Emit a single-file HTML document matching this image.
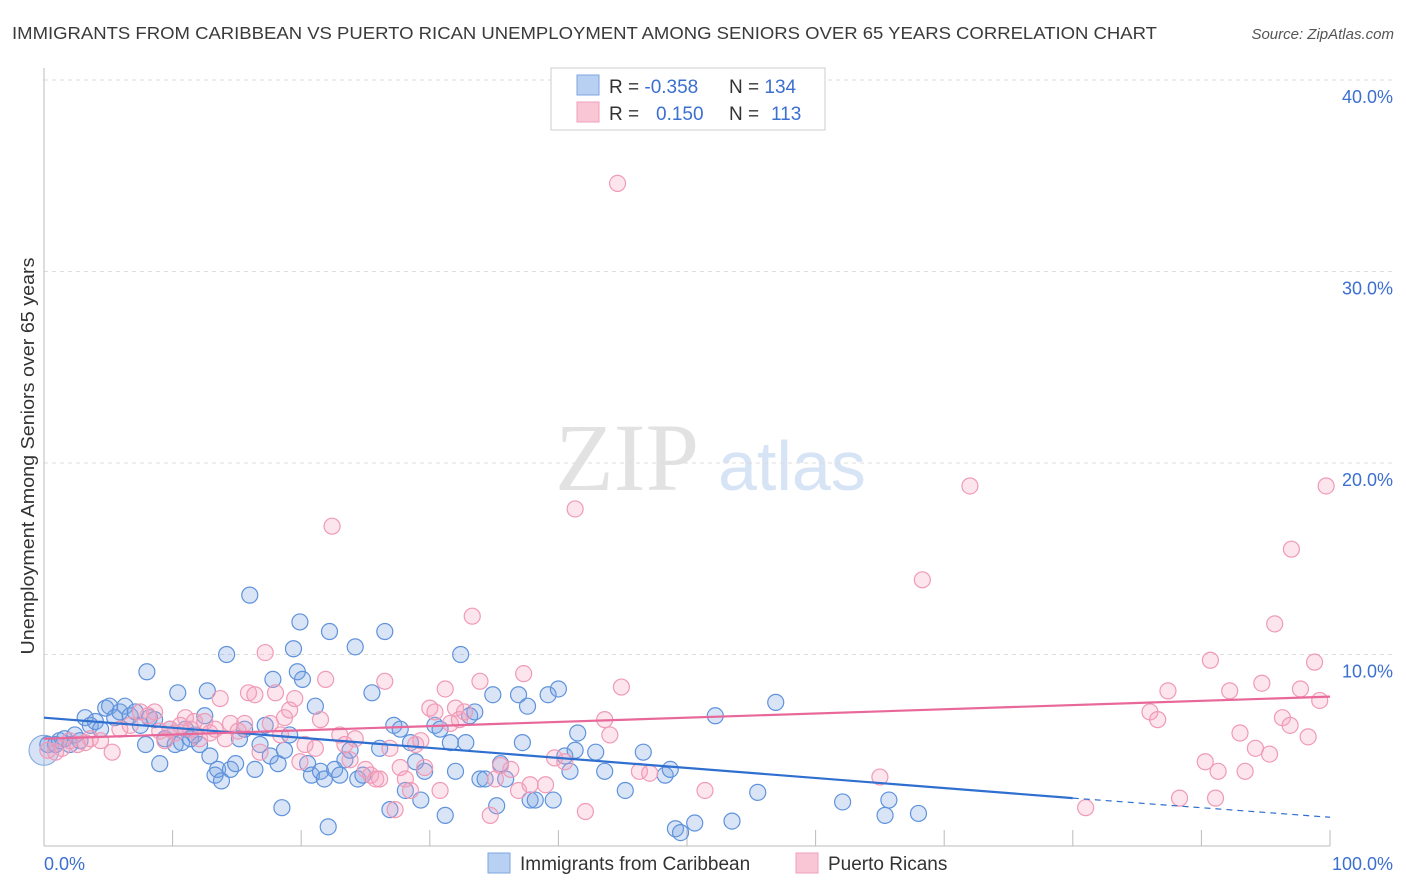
<!DOCTYPE html>
<html><head><meta charset="utf-8"><style>
body{margin:0;background:#fff;font-family:"Liberation Sans",sans-serif;}
svg{display:block}
</style></head><body>
<svg id="chart" width="1406" height="892">
<text x="12" y="39" font-size="17.5" fill="#3a3a3a" textLength="1145" lengthAdjust="spacingAndGlyphs">IMMIGRANTS FROM CARIBBEAN VS PUERTO RICAN UNEMPLOYMENT AMONG SENIORS OVER 65 YEARS CORRELATION CHART</text>
<text x="1394" y="39" font-size="15" fill="#555" font-style="italic" text-anchor="end">Source: ZipAtlas.com</text>
<g>
<text x="555" y="490" font-family="Liberation Serif,serif" font-size="96" fill="#e2e2e2">ZIP</text>
<text x="718" y="490" font-size="70" fill="#d6e4f5">atlas</text>
</g>
<g id="grid"></g>
<g id="pts"></g>
<g id="trend"></g>
<text transform="translate(34,456) rotate(-90)" font-size="18" fill="#333" text-anchor="middle" textLength="397" lengthAdjust="spacingAndGlyphs">Unemployment Among Seniors over 65 years</text>
<g>
<rect x="551" y="68" width="274" height="62" fill="#fff" stroke="#ccc"/>
<rect x="577" y="75" width="22" height="20" fill="#b8d1f3" stroke="#7ea6e0"/>
<rect x="577" y="102" width="22" height="20" fill="#f9c6d6" stroke="#f0a0bb"/>
<text x="609" y="93" font-size="19" fill="#333">R = <tspan fill="#3b6fd0">-0.358</tspan><tspan x="729">N = </tspan><tspan fill="#3b6fd0">134</tspan></text>
<text x="609" y="120" font-size="19" fill="#333">R = <tspan x="656" fill="#3b6fd0">0.150</tspan><tspan x="729">N = </tspan><tspan x="771" fill="#3b6fd0">113</tspan></text>
</g>
<g>
<rect x="488" y="853" width="22" height="20" fill="#b8d1f3" stroke="#7ea6e0"/>
<text x="520" y="870" font-size="19" fill="#333">Immigrants from Caribbean</text>
<rect x="796" y="853" width="22" height="20" fill="#f9c6d6" stroke="#f0a0bb"/>
<text x="828" y="870" font-size="19" fill="#333">Puerto Ricans</text>
</g>
</svg>
<script>
const yTicks=[10,20,30,40];
const yTickLabels=["10.0%","20.0%","30.0%","40.0%"];
const xTickLabels=["0.0%","100.0%"];
const blueX=[0.3,0.9,1.2,1.6,2.0,2.4,2.8,3.2,3.6,4.0,4.4,4.8,5.1,5.5,5.9,6.3,6.7,7.1,7.5,7.9,8.0,8.2,8.6,9.0,9.4,9.8,10.2,10.4,10.7,11.0,11.4,11.7,12.1,12.5,12.7,12.9,13.3,13.5,13.8,14.2,14.5,14.9,15.2,15.6,16.0,16.4,16.8,17.2,17.6,17.8,18.2,18.5,18.7,19.1,19.4,19.7,19.9,20.1,20.5,20.8,21.1,21.5,21.8,22.1,22.2,22.6,23.0,23.4,23.8,24.2,24.4,24.8,25.5,26.1,26.5,26.9,27.2,27.7,28.1,28.5,28.9,29.3,29.6,30.4,30.8,31.2,31.6,32.0,32.4,32.8,33.1,33.5,33.9,34.3,34.9,35.2,35.5,35.9,36.9,37.2,37.6,37.8,38.2,39.2,39.6,40.0,40.5,40.9,41.3,41.5,42.9,43.6,45.2,46.6,48.3,48.7,49.1,49.5,50.6,52.2,53.5,55.5,56.9,62.1,65.4,65.7,68.0];
const blueY=[5.3,5.3,5.5,5.6,5.3,5.8,5.5,6.7,6.3,6.5,6.1,7.2,7.3,6.7,7.0,7.3,6.8,7.0,6.3,5.3,9.1,6.7,6.6,4.3,5.6,6.1,5.3,8.0,5.4,6.1,5.6,5.8,5.3,6.8,8.1,4.7,3.7,4.0,3.4,10.0,4.0,4.3,5.6,6.1,13.1,4.0,5.3,6.3,4.7,8.7,4.3,2.0,5.0,5.8,10.3,9.1,11.7,8.7,4.3,3.7,7.3,3.9,3.5,1.0,11.2,4.0,3.7,4.5,5.0,10.4,3.5,3.7,8.0,5.1,11.2,1.9,6.3,6.1,2.9,5.4,4.4,2.4,3.9,6.3,6.1,1.6,5.4,3.9,10.0,5.4,6.8,7.0,3.5,3.5,7.9,2.1,4.3,3.5,7.9,5.4,7.3,2.4,2.4,7.9,2.4,8.2,4.7,3.9,5.0,5.9,4.9,3.9,2.9,4.9,3.7,4.0,0.9,0.7,1.2,6.8,1.3,2.8,7.5,2.3,1.6,2.4,1.7];
const pinkX=[0.3,0.9,1.4,2.0,2.6,3.2,3.6,4.4,5.3,5.9,6.7,7.5,8.1,8.6,9.0,9.4,9.8,10.2,10.6,11.0,11.4,11.7,12.1,12.5,12.9,13.3,13.7,14.1,14.5,15.1,15.6,15.9,16.4,16.8,17.2,17.6,18.0,18.4,18.7,19.1,19.5,19.9,20.3,21.1,21.5,21.9,22.4,23.0,23.4,23.8,24.2,25.0,25.4,25.8,26.1,26.5,26.9,27.3,27.7,28.1,28.5,28.9,29.3,29.6,30.0,30.4,30.8,31.2,31.6,32.0,32.3,32.7,33.3,33.9,34.7,35.1,35.5,36.3,36.9,37.3,37.8,39.0,39.7,40.5,41.3,42.1,43.6,44.0,44.6,44.9,46.3,47.1,51.4,65.0,68.3,72.0,81.0,86.0,86.6,87.4,88.3,90.3,90.7,91.1,91.3,92.2,93.0,93.4,94.2,94.7,95.3,95.7,96.3,96.9,97.0,97.7,98.3,98.8,99.2,99.7];
const pinkY=[5.0,4.9,5.1,5.5,5.3,5.4,5.6,5.5,4.9,6.1,6.3,7.0,6.8,7.0,6.0,5.5,6.1,5.9,6.3,6.7,6.1,6.5,5.6,6.5,5.9,6.1,7.7,5.6,6.4,6.0,6.4,8.0,7.9,4.9,10.1,6.4,8.0,5.8,6.7,7.1,7.7,4.4,5.3,5.1,6.6,8.7,16.7,5.8,5.3,4.5,5.6,4.0,3.7,3.5,3.5,8.6,5.1,1.9,4.1,3.5,2.9,5.3,5.5,4.1,7.2,7.0,2.9,8.2,6.4,7.2,6.6,7.0,12.0,8.6,1.6,3.5,4.2,4.0,2.9,9.0,3.2,3.2,4.6,4.4,17.6,1.8,6.6,5.8,34.6,8.3,3.9,3.8,2.9,3.6,13.9,18.8,2.0,7.0,6.6,8.1,2.5,4.4,9.7,2.5,3.9,8.1,5.9,3.9,5.1,8.5,4.8,11.6,6.7,6.3,15.5,8.2,5.7,9.6,7.6,18.8];
const blueTrend=[6.7,2.5,1.5]; // at x=0, 80, 100
const pinkTrend=[5.6,7.8];     // at x=0, 100
const NS="http://www.w3.org/2000/svg";
const X=v=>44+v*12.86, Y=v=>846-v*19.15;
function mk(tag,attrs,parent){const e=document.createElementNS(NS,tag);for(const k in attrs)e.setAttribute(k,attrs[k]);parent.appendChild(e);return e;}
const grid=document.getElementById('grid');
yTicks.forEach((t,i)=>{
 const l=mk('line',{x1:44,x2:1394,y1:Y(t),y2:Y(t),stroke:'#ddd','stroke-dasharray':'4,4'},grid);
 
 
 const tx=mk('text',{x:1393,y:Y(t)+23,'font-size':18,fill:'#3b6fd0','text-anchor':'end'},grid);
 tx.textContent=yTickLabels[i];
 
 
});
mk('line',{x1:44,x2:44,y1:68,y2:846,stroke:'#bbb'},grid);
mk('line',{x1:44,x2:1330,y1:846,y2:846,stroke:'#bbb'},grid);
for(let i=0;i<=10;i++){const t=mk('line',{x1:X(i*10),x2:X(i*10),y1:830,y2:846,stroke:'#bbb'},grid);
 
 }
[[0,'start',44],[100,'end',1393]].forEach((d,i)=>{const tx=mk('text',{x:d[2],y:870,'font-size':18,fill:'#3b6fd0','text-anchor':d[1]},grid);tx.textContent=xTickLabels[i];
 
 });
const pts=document.getElementById('pts');
const big=mk('circle',{cx:X(0),cy:Y(5),r:15,fill:'rgba(120,160,225,0.3)',stroke:'#7ea6e0'},pts);


blueX.forEach((x,i)=>{const c=mk('circle',{cx:X(x),cy:Y(blueY[i]),r:8,fill:'rgba(120,160,225,0.28)',stroke:'#5f92dc','stroke-width':1.2},pts);
 
 });
pinkX.forEach((x,i)=>{const c=mk('circle',{cx:X(x),cy:Y(pinkY[i]),r:8,fill:'rgba(245,160,190,0.28)',stroke:'#f09ab6','stroke-width':1.2},pts);
 
 });
const tr=document.getElementById('trend');
const b1=mk('line',{x1:X(0),y1:Y(blueTrend[0]),x2:X(80),y2:Y(blueTrend[1]),stroke:'#2f6fd0','stroke-width':2.2},tr);


const b2=mk('line',{x1:X(80),y1:Y(blueTrend[1]),x2:X(100),y2:Y(blueTrend[2]),stroke:'#2f6fd0','stroke-width':1.2,'stroke-dasharray':'6,5'},tr);


const p1=mk('line',{x1:X(0),y1:Y(pinkTrend[0]),x2:X(100),y2:Y(pinkTrend[1]),stroke:'#e8689a','stroke-width':2.2},tr);


</script>
</body></html>
